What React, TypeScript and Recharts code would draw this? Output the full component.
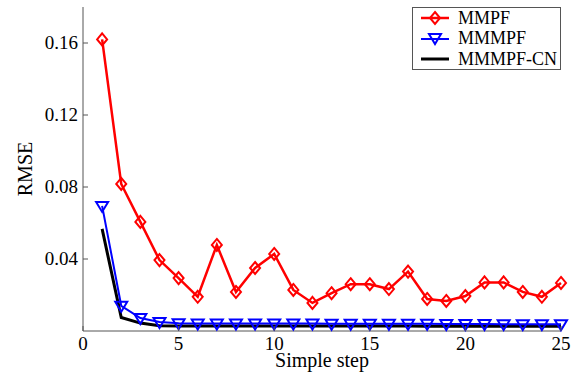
import { CartesianGrid, Legend, Line, LineChart, XAxis, YAxis } from 'recharts';

const steps = [1, 2, 3, 4, 5, 6, 7, 8, 9, 10, 11, 12, 13, 14, 15, 16, 17, 18, 19, 20, 21, 22, 23, 24, 25];

const mmpf = [
  0.162, 0.0817, 0.0606, 0.0394, 0.0294, 0.019, 0.0478, 0.0217, 0.035, 0.0428, 0.0228, 0.0156, 0.021,
  0.026, 0.026, 0.0233, 0.033, 0.0178, 0.0167, 0.0194, 0.027, 0.027, 0.0217, 0.019, 0.0267,
];

const mmmpf = [
  0.0695, 0.014, 0.0072, 0.005, 0.0043, 0.0042, 0.0042, 0.0042, 0.0042, 0.0041, 0.0041, 0.0041, 0.004,
  0.004, 0.004, 0.004, 0.004, 0.004, 0.0039, 0.0039, 0.0039, 0.0038, 0.0038, 0.0038, 0.0037,
];

const mmmpfCn = [
  0.0567, 0.0075, 0.0044, 0.0029, 0.0028, 0.0028, 0.0028, 0.0028, 0.0028, 0.0028, 0.0028, 0.0028, 0.0028,
  0.0028, 0.0028, 0.0028, 0.0028, 0.0027, 0.0027, 0.0027, 0.0027, 0.0027, 0.0026, 0.0026, 0.0026,
];

const xTicks = [0, 5, 10, 15, 20, 25];
const yTicks = [0.04, 0.08, 0.12, 0.16];

const data = steps.map((step, i) => ({
  step,
  mmpf: mmpf[i],
  mmmpf: mmmpf[i],
  mmmpfCn: mmmpfCn[i],
}));

const FONT = "'Liberation Serif', 'Times New Roman', serif";
const AXIS = '#555';

const textStyle = { fontFamily: FONT };

const fmtY = (v: number) => v.toFixed(2);

const BottomTick = ({ x, y, payload }: any) => (
  <g>
    <line x1={x} x2={x} y1={y} y2={y - 5} stroke={AXIS} />
    <text x={x} y={y + 19} textAnchor="middle" style={textStyle} fontSize={19} fill="#000">
      {payload.value}
    </text>
  </g>
);

const TopTick = ({ x, y }: any) => <line x1={x} x2={x} y1={y} y2={y + 5} stroke={AXIS} />;

const LeftTick = ({ x, y, payload }: any) => (
  <g>
    <line x1={x} x2={x + 5} y1={y} y2={y} stroke={AXIS} />
    <text x={x - 5} y={y + 6} textAnchor="end" style={textStyle} fontSize={19} fill="#000">
      {fmtY(payload.value)}
    </text>
  </g>
);

const RightTick = ({ x, y }: any) => <line x1={x} x2={x - 5} y1={y} y2={y} stroke={AXIS} />;

const Diamond = ({ cx, cy }: any) =>
  cx == null ? null : (
    <polygon
      points={`${cx},${cy - 6} ${cx + 5},${cy} ${cx},${cy + 6} ${cx - 5},${cy}`}
      fill="none"
      stroke="#ff0000"
      strokeWidth={2}
    />
  );

const Triangle = ({ cx, cy }: any) =>
  cx == null ? null : (
    <polygon
      points={`${cx - 6},${cy - 4} ${cx + 6},${cy - 4} ${cx},${cy + 6}`}
      fill="none"
      stroke="#0000ff"
      strokeWidth={2}
    />
  );

const legendItems = [
  { label: 'MMPF', color: '#ff0000', marker: 'diamond', width: 2.5 },
  { label: 'MMMPF', color: '#0000ff', marker: 'triangle', width: 2 },
  { label: 'MMMPF-CN', color: '#000000', marker: 'none', width: 3 },
];

const LegendBox = () => (
  <div
    style={{
      width: 147,
      height: 61,
      border: `1px solid ${AXIS}`,
      background: '#fff',
      fontFamily: FONT,
      fontSize: 18,
      lineHeight: '21px',
    }}
  >
    {legendItems.map((item) => (
      <div key={item.label} style={{ display: 'flex', alignItems: 'center', height: 20.5 }}>
        <svg width={45} height={20} style={{ flex: 'none' }}>
          <line x1={8} x2={36} y1={10} y2={10} stroke={item.color} strokeWidth={item.width} />
          {item.marker === 'diamond' && <Diamond cx={22} cy={10} />}
          {item.marker === 'triangle' && <Triangle cx={22} cy={9} />}
        </svg>
        <span style={{ color: '#000' }}>{item.label}</span>
      </div>
    ))}
  </div>
);

export default function App() {
  return (
    <div style={{ position: 'absolute', left: 0, top: 0, background: '#fff', fontFamily: FONT }}>
      <LineChart
        width={581}
        height={375}
        data={data}
        margin={{ top: 7, right: 20, bottom: 0, left: 0 }}
        style={{ fontFamily: FONT }}
      >
        <CartesianGrid stroke="none" />
        <XAxis
          xAxisId="bottom"
          dataKey="step"
          type="number"
          domain={[0, 25]}
          ticks={xTicks}
          height={44}
          stroke={AXIS}
          tickSize={0}
          tickMargin={0}
          tick={<BottomTick />}
          label={{
            content: ({ viewBox }: any) => (
              <text
                x={viewBox.x + viewBox.width / 2}
                y={viewBox.y + 36}
                textAnchor="middle"
                style={textStyle}
                fontSize={20}
                fill="#000"
              >
                Simple step
              </text>
            ),
          }}
        />
        <XAxis
          xAxisId="top"
          orientation="top"
          dataKey="step"
          type="number"
          domain={[0, 25]}
          ticks={xTicks}
          height={0}
          stroke={AXIS}
          tickSize={0}
          tickMargin={0}
          tick={<TopTick />}
        />
        <YAxis
          yAxisId="left"
          type="number"
          domain={[0, 0.18]}
          ticks={yTicks}
          width={83}
          stroke={AXIS}
          tickSize={0}
          tickMargin={0}
          tick={<LeftTick />}
          label={{
            content: ({ viewBox }: any) => {
              const cx = viewBox.x + 25;
              const cy = viewBox.y + viewBox.height / 2;
              return (
                <text
                  x={cx}
                  y={cy}
                  transform={`rotate(-90 ${cx} ${cy})`}
                  textAnchor="middle"
                  dominantBaseline="central"
                  style={textStyle}
                  fontSize={20}
                  fill="#000"
                >
                  RMSE
                </text>
              );
            },
          }}
        />
        <YAxis
          yAxisId="right"
          orientation="right"
          type="number"
          domain={[0, 0.18]}
          ticks={yTicks}
          width={0}
          stroke={AXIS}
          tickSize={0}
          tickMargin={0}
          tick={<RightTick />}
        />
        <Legend
          layout="vertical"
          align="center"
          verticalAlign="middle"
          content={<LegendBox />}
          wrapperStyle={{ position: 'absolute', left: 412, top: 7, width: 149, height: 63 }}
        />
        <Line
          xAxisId="bottom"
          yAxisId="left"
          dataKey="mmmpfCn"
          name="MMMPF-CN"
          stroke="#000000"
          strokeWidth={3}
          dot={false}
          isAnimationActive={false}
        />
        <Line
          xAxisId="bottom"
          yAxisId="left"
          dataKey="mmmpf"
          name="MMMPF"
          stroke="#0000ff"
          strokeWidth={2}
          dot={<Triangle />}
          isAnimationActive={false}
        />
        <Line
          xAxisId="bottom"
          yAxisId="left"
          dataKey="mmpf"
          name="MMPF"
          stroke="#ff0000"
          strokeWidth={2.5}
          dot={<Diamond />}
          isAnimationActive={false}
        />
      </LineChart>
    </div>
  );
}
